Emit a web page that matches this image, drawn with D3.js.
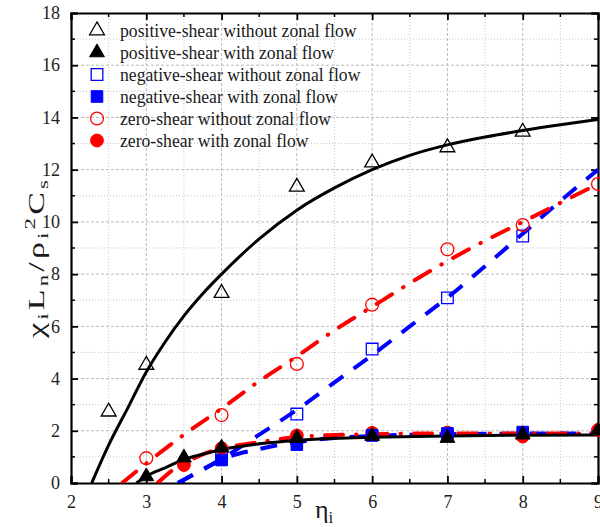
<!DOCTYPE html>
<html><head><meta charset="utf-8">
<script src="https://cdn.jsdelivr.net/npm/d3@7"></script>
<style>
html,body{margin:0;padding:0;background:#fff;}
svg{display:block;font-family:"Liberation Serif","Times New Roman",serif;}
</style></head>
<body><svg id="c" width="600" height="527"></svg>
<script>
// ---- data ----
const xTicks = [2,3,4,5,6,7,8,9];
const yTicks = [0,2,4,6,8,10,12,14,16,18];

const posNoX = [2.5,3,4,5,6,7,8];
const posNoY = [2.73,4.52,7.27,11.34,12.27,12.85,13.45];
const posZfX = [3,3.5,4,5,6,7,8,9];
const posZfY = [0.25,0.97,1.35,1.72,1.8,1.72,1.85,2.0];
const negNoX = [4,5,6,7,8];
const negNoY = [1.0,2.64,5.13,7.09,9.46];
const negZfX = [4,5,6,7,8];
const negZfY = [0.88,1.47,1.82,1.9,1.95];
const zeroNoX = [3,4,5,6,7,8,9];
const zeroNoY = [0.95,2.6,4.56,6.83,8.95,9.88,11.45];
const zeroZfX = [3.5,4,5,6,7,8,9];
const zeroZfY = [0.69,1.33,1.82,1.92,1.93,1.78,2.03];

// fitted curves
const fitPosNoX = [2.275,2.5,2.75,3,3.25,3.5,3.75,4,4.5,5,5.5,6,6.5,7,7.5,8,8.5,9];
const fitPosNoY = [0,1.45,2.85,4.25,5.4,6.4,7.25,8.0,9.35,10.45,11.3,12.0,12.55,12.95,13.25,13.5,13.72,13.92];
const fitPosZfX = [2.87,3,3.25,3.5,3.75,4,4.5,5,5.5,6,7,8,9];
const fitPosZfY = [0,0.26,0.58,0.9,1.1,1.28,1.5,1.63,1.71,1.75,1.8,1.83,1.84];
const fitNegNoX = [3.42,4,4.5,5,5.5,6,6.5,7,7.5,8,8.5,9];
const fitNegNoY = [0,0.92,1.85,2.8,3.85,4.9,6.0,7.1,8.3,9.55,10.8,12.0];
const fitNegZfX = [3.42,3.8,4,4.5,5,5.5,6,7,8,9];
const fitNegZfY = [0,0.6,0.9,1.3,1.57,1.72,1.8,1.87,1.89,1.9];
const fitZeroNoX = [2.68,3,3.5,4,4.5,5,5.5,6,6.5,7,7.5,8,8.5,9];
const fitZeroNoY = [0,0.75,1.85,2.85,3.9,4.85,5.85,6.75,7.65,8.5,9.28,10.0,10.73,11.45];
const fitZeroZfX = [3.15,3.4,3.6,3.8,4,4.4,4.7,5,5.5,6,7,8,9];
const fitZeroZfY = [0,0.6,0.9,1.15,1.32,1.52,1.65,1.76,1.84,1.87,1.9,1.9,1.9];

const legendLabels = [
  "positive-shear without zonal flow",
  "positive-shear with zonal flow",
  "negative-shear without zonal flow",
  "negative-shear with zonal flow",
  "zero-shear without zonal flow",
  "zero-shear with zonal flow"
];

// ---- layout ----
const svg = d3.select("#c");
const L = 71, R = 598, T = 13, B = 483;
const x = d3.scaleLinear().domain([2,9]).range([L,R]);
const y = d3.scaleLinear().domain([0,18]).range([B,T]);
const zip = (a,b) => a.map((v,i)=>[v,b[i]]);

// grid
const g = svg.append("g");
d3.range(2,9.01,0.5).forEach(v=>{
  if (v===2||v===9) return;
  g.append("line").attr("x1",x(v)).attr("x2",x(v)).attr("y1",T).attr("y2",B)
   .attr("stroke", Number.isInteger(v)?"#bbbbbb":"#c8c8c8").attr("stroke-width",1)
   .attr("stroke-dasharray", Number.isInteger(v)?"3,2":"1,2");
});
d3.range(1,18,1).forEach(v=>{
  g.append("line").attr("y1",y(v)).attr("y2",y(v)).attr("x1",L).attr("x2",R)
   .attr("stroke", v%2===0?"#bbbbbb":"#c8c8c8").attr("stroke-width",1)
   .attr("stroke-dasharray", v%2===0?"3,2":"1,2");
});

// axes
const xAx = d3.axisBottom(x).tickValues(xTicks).tickSize(-7).tickPadding(12).tickFormat(d3.format("d"));
const yAx = d3.axisLeft(y).tickValues(yTicks).tickSize(-7).tickPadding(11).tickFormat(d3.format("d"));
const xa = svg.append("g").attr("transform",`translate(0,${B})`).call(xAx);
const ya = svg.append("g").attr("transform",`translate(${L},0)`).call(yAx);
const xt = svg.append("g").attr("transform",`translate(0,${T})`).call(d3.axisTop(x).tickValues(xTicks).tickSize(-7).tickFormat(""));
const yr = svg.append("g").attr("transform",`translate(${R},0)`).call(d3.axisRight(y).tickValues(yTicks).tickSize(-7).tickFormat(""));
// minor ticks
const xMinor = d3.range(2.5,9,1), yMinor = d3.range(1,18,2);
[[B,-4],[T,4]].forEach(([yy,d])=>{
  xMinor.forEach(v=>svg.append("line").attr("x1",x(v)).attr("x2",x(v)).attr("y1",yy).attr("y2",yy+d).attr("stroke","#000").attr("stroke-width",1.5));
});
[[L,4],[R,-4]].forEach(([xx,d])=>{
  yMinor.forEach(v=>svg.append("line").attr("y1",y(v)).attr("y2",y(v)).attr("x1",xx).attr("x2",xx+d).attr("stroke","#000").attr("stroke-width",1.5));
});
[xa,ya,xt,yr].forEach(a=>{
  a.attr("font-family","Liberation Serif");
  a.select(".domain").attr("stroke","#000").attr("stroke-width",2.2);
  a.selectAll(".tick line").attr("stroke","#000").attr("stroke-width",1.8);
  a.selectAll("text").attr("font-family","Liberation Serif").attr("font-size",18).attr("fill","#222");
});

// clip
svg.append("clipPath").attr("id","clip").append("rect").attr("x",L).attr("y",T).attr("width",R-L+10).attr("height",B-T);

// curves
const line = d3.line().x(d=>x(d[0])).y(d=>y(d[1])).curve(d3.curveMonotoneX);
const lines = svg.append("g").attr("clip-path","url(#clip)");
function addLine(xs,ys,color,w,dash,cap){
  lines.append("path").attr("d",line(zip(xs,ys))).attr("fill","none")
   .attr("stroke",color).attr("stroke-width",w)
   .attr("stroke-dasharray",dash||null).attr("stroke-linecap",cap||"butt");
}
addLine(fitNegNoX,fitNegNoY,"#0000ff",4,"17,13");
addLine(fitZeroNoX,fitZeroNoY,"#ff0000",4,"18,13,0.5,13","round");
addLine(fitNegZfX,fitNegZfY,"#0000ff",4,"17,13");
addLine(fitZeroZfX,fitZeroZfY,"#ff0000",4,"18,13,0.5,13","round");
addLine(fitPosZfX,fitPosZfY,"#000",3);
addLine(fitPosNoX,fitPosNoY,"#000",3);

// markers
const sym = {
  tri: d3.symbol().type(d3.symbolTriangle).size(95),
  sq: d3.symbol().type(d3.symbolSquare).size(135),
  cir: d3.symbol().type(d3.symbolCircle).size(130)
};
const mk = svg.append("g");
function addPts(xs,ys,type,color,filled){
  zip(xs,ys).forEach(p=>{
    mk.append("path").attr("d",sym[type]())
      .attr("transform",`translate(${x(p[0])},${y(p[1])})`)
      .attr("fill",filled?color:"none").attr("stroke",color).attr("stroke-width",filled?1:1.3);
  });
}
addPts(posNoX,posNoY,"tri","#000",false);
addPts(negNoX,negNoY,"sq","#0000ff",false);
addPts(zeroNoX,zeroNoY,"cir","#ff0000",false);
addPts(zeroZfX,zeroZfY,"cir","#ff0000",true);
addPts(negZfX,negZfY,"sq","#0000ff",true);
addPts(posZfX,posZfY,"tri","#000",true);

// legend
const legTypes = [["tri","#000",false],["tri","#000",true],["sq","#0000ff",false],["sq","#0000ff",true],["cir","#ff0000",false],["cir","#ff0000",true]];
const lg = svg.append("g");
legendLabels.forEach((t,i)=>{
  const yy = 30.5 + i*22;
  const [ty,c,f] = legTypes[i];
  lg.append("path").attr("d",sym[ty]()).attr("transform",`translate(97,${yy})`)
    .attr("fill",f?c:"none").attr("stroke",c).attr("stroke-width",f?1:1.3);
  lg.append("text").attr("x",0).attr("y",0).attr("font-size",19.5)
    .attr("fill","#1a1a1a").attr("transform",`translate(120,${yy+6}) scale(0.905,1)`).text(t);
});

// axis titles
const xtitle = svg.append("text").attr("x",315).attr("y",518).attr("font-size",26).attr("fill","#1a1a1a");
xtitle.append("tspan").text("η");
xtitle.append("tspan").attr("dy",5).attr("font-size",17).text("i");

const yt = svg.append("text").attr("font-size",34).attr("fill","#1a1a1a")
  .attr("x",-79).attr("y",0)
  .attr("textLength",158).attr("lengthAdjust","spacing");
const parts = [["χ",0,34],["i",6,23],["L",-6,34],["n",6,23],["/",-6,34],["ρ",0,34],["i",6,23],["2",-19,23],["C",13,34],["s",6,23]];
parts.forEach(([s,dy,fs])=>yt.append("tspan").attr("dy",dy).attr("font-size",fs).text(s));
yt.attr("transform",`translate(44,259) rotate(-90) scale(1,0.66)`);
</script></body></html>
